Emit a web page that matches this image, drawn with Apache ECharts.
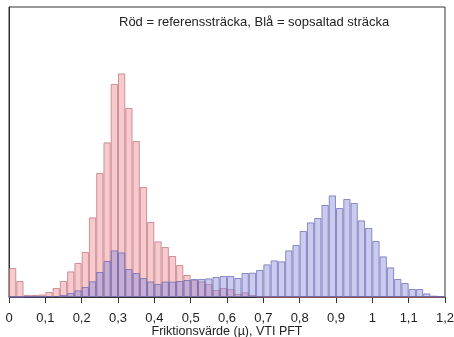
<!DOCTYPE html>
<html>
<head>
<meta charset="utf-8">
<script src="https://cdn.jsdelivr.net/npm/echarts@6/dist/echarts.min.js"></script>
<style>html,body{margin:0;padding:0;background:#fff}#c{width:454px;height:337px}</style>
</head>
<body>
<div id="c"></div>
<script>
// Bin starts (width 0.02), 0 .. 1.18
var binStarts = [];
for (var i = 0; i < 60; i++) binStarts.push((i * 0.02).toFixed(2));

// Red = reference section (relative frequency, arbitrary units)
var redValues = [29, 16, 2, 2, 2.5, 5, 9, 16, 25.6, 34,
  45, 79.6, 124, 154.6, 213, 223.6, 189, 156, 110, 75,
  55.6, 50, 41, 32, 22, 17, 15.6, 13, 7, 9,
  8, 3, 4.7, 2, 0.5, 0, 0, 0, 0, 0,
  0, 0, 0, 0, 0, 0, 0, 0, 0, 0,
  0, 0, 0, 0, 0, 0, 0, 0, 0, 0];

// Blue = salted section
var blueValues = [0, 0, 0.5, 0.5, 0.5, 1, 1, 2, 4, 6.6,
  10, 15.7, 25, 36, 46.6, 44.6, 28, 24, 19, 15.5,
  13, 15.5, 15.3, 16, 17, 18, 18, 18.6, 20, 21,
  21, 19, 24, 24.3, 27, 32.6, 36.6, 35.6, 46.6, 52,
  66, 74.6, 79, 92, 101.6, 89, 98, 94, 76.6, 69,
  56, 40.6, 29.6, 18, 14, 8, 8, 3.6, 1.3, 1];

var titleText = "Röd = referenssträcka, Blå = sopsaltad sträcka";
var xName = "Friktionsvärde (µ), VTI PFT";

var chart = echarts.init(document.getElementById('c'), null, {renderer: 'canvas'});
chart.setOption({
  animation: false,
  backgroundColor: '#fff',
  textStyle: {fontFamily: 'Liberation Sans, Arial, sans-serif'},
  title: {
    text: titleText, left: 114, top: 11,
    textStyle: {fontSize: 13, fontWeight: 'normal', color: '#222', fontFamily: 'Liberation Sans'}
  },
  grid: {left: 9, right: 9, top: 7, bottom: 40, show: true, borderColor: '#333', borderWidth: 1,
    containLabel: false, outerBoundsMode: 'none'},
  xAxis: [{
    type: 'value', min: 0, max: 1.2, interval: 0.1,
    axisLine: {show: true, lineStyle: {color: '#333', width: 1}},
    axisTick: {show: true, length: 6, inside: false, lineStyle: {color: '#333'}},
    splitLine: {show: false},
    axisLabel: {
      margin: 15, fontSize: 13, color: '#222',
      formatter: function (v) { return (Math.round(v * 10) / 10).toString().replace('.', ','); }
    },
    name: xName, nameLocation: 'middle', nameGap: 28, nameMoveOverlap: false,
    nameTextStyle: {fontSize: 12.5, color: '#222'}
  }, {
    type: 'category', data: binStarts, show: false, boundaryGap: true
  }],
  yAxis: {
    type: 'value', min: 0, max: 290,
    axisLine: {show: true, lineStyle: {color: '#333'}},
    axisTick: {show: false}, axisLabel: {show: false}, splitLine: {show: false}
  },
  series: [{
    name: 'Röd', type: 'bar', xAxisIndex: 1, data: redValues,
    barWidth: '100%', barGap: '-100%',
    itemStyle: {color: 'rgba(240,150,158,0.5)', borderColor: 'rgba(190,110,120,0.7)', borderWidth: 1}
  }, {
    name: 'Blå', type: 'bar', xAxisIndex: 1, data: blueValues,
    barWidth: '100%', barGap: '-100%',
    itemStyle: {color: 'rgba(140,140,215,0.45)', borderColor: 'rgba(100,100,180,0.7)', borderWidth: 1}
  }]
});
</script>
</body>
</html>
